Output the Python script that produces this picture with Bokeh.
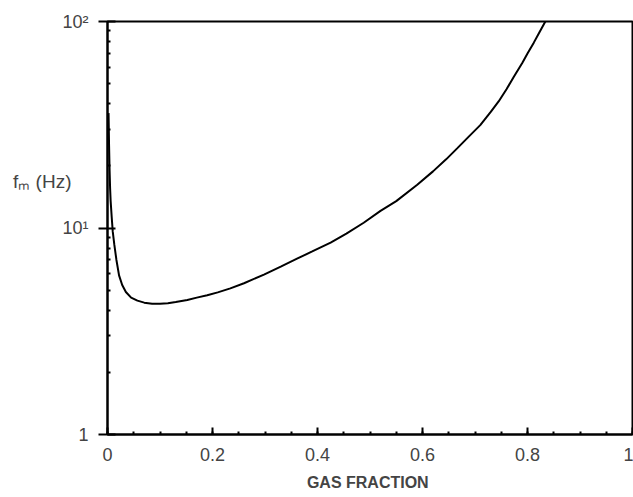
from bokeh.plotting import figure
from bokeh.models import Range1d, FixedTicker
from bokeh.embed import file_html
from bokeh.resources import INLINE

# Data
gas_fraction = [0.002, 0.003, 0.004, 0.005, 0.006, 0.008, 0.010, 0.013, 0.017,
                0.022, 0.028, 0.035, 0.045, 0.057, 0.070, 0.085, 0.100, 0.115,
                0.130, 0.152, 0.170, 0.190, 0.210, 0.234, 0.260, 0.298, 0.330,
                0.361, 0.390, 0.425, 0.455, 0.488, 0.520, 0.550, 0.590, 0.620,
                0.645, 0.666, 0.690, 0.710, 0.730, 0.745, 0.760, 0.774, 0.790,
                0.800, 0.812, 0.822, 0.834]
f_m = [36, 25, 19, 15.5, 13.5, 11.3, 9.6, 8.3, 7.0,
       5.9, 5.3, 4.9, 4.6, 4.45, 4.35, 4.3, 4.3, 4.32,
       4.38, 4.48, 4.6, 4.72, 4.88, 5.1, 5.4, 5.95, 6.5,
       7.1, 7.7, 8.5, 9.4, 10.6, 12.1, 13.5, 16.2, 18.8,
       21.5, 24.3, 28, 31.5, 36.5, 41, 47, 54, 63,
       70, 79, 88, 100]

x_ticks = [0, 0.2, 0.4, 0.6, 0.8, 1.0]
x_tick_labels = ["0", "0.2", "0.4", "0.6", "0.8", "1"]
x_minor = [0.05 * i for i in range(21)]
y_ticks = [1, 10, 100]
y_tick_labels = ["1", "10\u00b9", "10\u00b2"]
y_minor = [2, 3, 4, 5, 6, 7, 8, 9, 20, 30, 40, 50, 60, 70, 80, 90]

FONT = "Liberation Sans"
W, H = 633, 497
LB, RB, TB, BB = 107, 1, 21, 63

p = figure(width=W, height=H, output_backend="svg", toolbar_location=None,
           x_range=Range1d(0, 1), y_range=Range1d(1, 100), y_axis_type="log",
           min_border_left=LB, min_border_right=RB, min_border_top=TB,
           min_border_bottom=BB)
p.background_fill_color = "white"
p.border_fill_color = "white"
p.grid.visible = False
p.outline_line_color = "black"
p.outline_line_width = 2

p.line(gas_fraction, f_m, line_color="black", line_width=2)

xa = p.xaxis[0]
xa.ticker = FixedTicker(ticks=x_ticks, minor_ticks=x_minor)
xa.major_label_overrides = {t: l for t, l in zip(x_ticks, x_tick_labels)}
xa.axis_line_width = 2
xa.major_tick_in = 7
xa.major_tick_out = 0
xa.major_tick_line_width = 2
xa.minor_tick_in = 3
xa.minor_tick_out = 0
xa.minor_tick_line_width = 2
xa.major_label_text_font = FONT
xa.major_label_text_font_size = "18px"
xa.major_label_standoff = 13
xa.axis_label = "GAS  FRACTION"
xa.axis_label_text_font = FONT
xa.axis_label_text_font_style = "bold"
xa.axis_label_text_font_size = "16px"
xa.axis_label_standoff = 10

ya = p.yaxis[0]
ya.ticker = FixedTicker(ticks=y_ticks, minor_ticks=y_minor)
ya.major_label_overrides = {t: l for t, l in zip(y_ticks, y_tick_labels)}
ya.axis_line_width = 2
ya.major_tick_in = 8
ya.major_tick_out = 9
ya.major_tick_line_width = 2
ya.minor_tick_in = 3
ya.minor_tick_out = 0
ya.minor_tick_line_width = 2
ya.major_label_text_font = FONT
ya.major_label_text_font_size = "18px"
ya.major_label_standoff = 10
# horizontal y title; blank lines lift it above the axis centre
ya.axis_label = "f\u2098 (Hz)\n \n \n \n "
ya.axis_label_orientation = "horizontal"
ya.axis_label_text_font = FONT
ya.axis_label_text_font_size = "19px"
ya.axis_label_text_font_style = "normal"
ya.axis_label_text_line_height = 1.1
ya.axis_label_standoff = -12

open("out.html", "w").write(file_html(p, INLINE))
